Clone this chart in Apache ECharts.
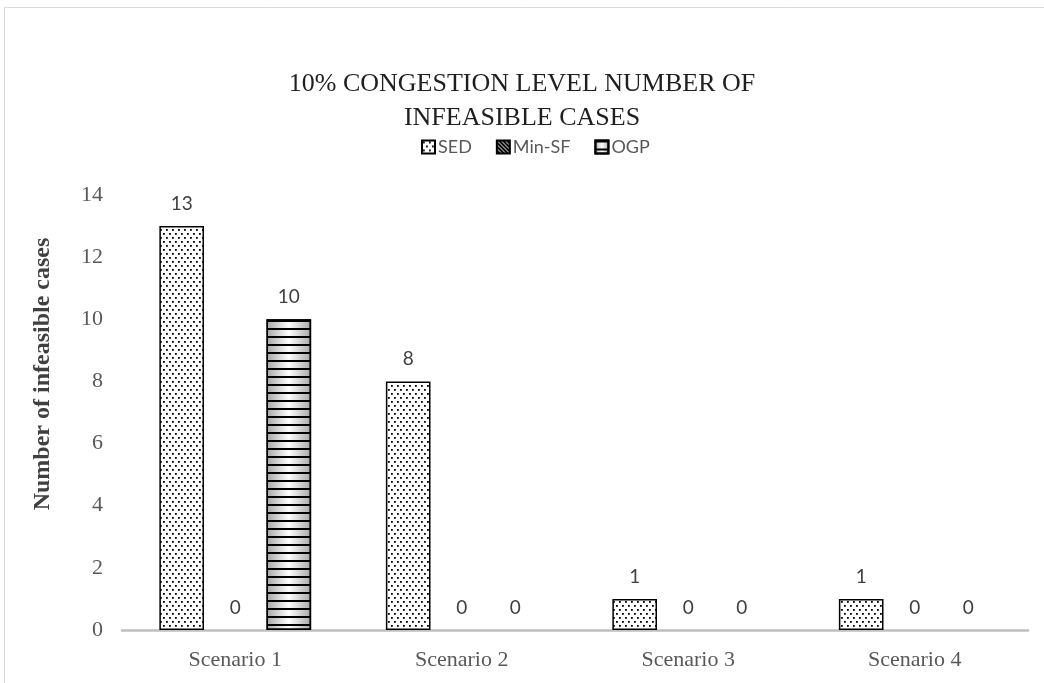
<!DOCTYPE html>
<html>
<head>
<meta charset="utf-8">
<script src="https://cdn.jsdelivr.net/npm/echarts@6/dist/echarts.min.js"></script>
<style>
  html, body { margin: 0; padding: 0; background: #fff; }
  #chart { width: 1044px; height: 683px; }
</style>
</head>
<body>
<div id="chart"></div>
<script>
// Chart data
const categories = ['Scenario 1', 'Scenario 2', 'Scenario 3', 'Scenario 4'];
const sedValues = [13, 8, 1, 1];
const minSfValues = [0, 0, 0, 0];
const ogpValues = [10, 0, 0, 0];
const yTicks = [0, 2, 4, 6, 8, 10, 12, 14];
const yAxisTitle = 'Number of infeasible cases';

// Dotted fill for SED bars
function dotPattern() {
  const c = document.createElement('canvas');
  c.width = 6; c.height = 8;
  const g = c.getContext('2d');
  g.fillStyle = '#fff';
  g.fillRect(0, 0, 6, 8);
  g.fillStyle = '#000';
  g.fillRect(1, 1, 1.8, 1.8);
  g.fillRect(4, 5, 1.8, 1.8);
  return { image: c, repeat: 'repeat' };
}

// Dense diagonal stripes for Min-SF
function diagPattern() {
  const c = document.createElement('canvas');
  c.width = 4; c.height = 4;
  const g = c.getContext('2d');
  g.fillStyle = '#000';
  g.fillRect(0, 0, 4, 4);
  g.strokeStyle = '#fff';
  g.lineWidth = 1;
  g.beginPath();
  g.moveTo(0, 0); g.lineTo(4, 4);
  g.stroke();
  return { image: c, repeat: 'repeat' };
}

// Grey cylinder-style gradient for OGP (stripes added with a decal)
const ogpGradient = {
  type: 'linear', x: 0, y: 0, x2: 1, y2: 0,
  colorStops: [
    { offset: 0, color: '#a6a6a6' },
    { offset: 0.5, color: '#ffffff' },
    { offset: 1, color: '#a6a6a6' }
  ]
};

function withZeroHidden(values) {
  return values.map(v => v === 0 ? { value: v, itemStyle: { borderWidth: 0 } } : v);
}

const labelStyle = {
  show: true,
  position: 'top',
  distance: 13,
  fontFamily: 'Lato',
  fontSize: 19,
  color: '#404040'
};

const chart = echarts.init(document.getElementById('chart'), null, { renderer: 'canvas' });

chart.setOption({
  animation: false,
  backgroundColor: '#ffffff',
  graphic: [
    {
      type: 'rect',
      shape: { x: 4.5, y: 7.5, width: 1200, height: 1000 },
      style: { fill: 'none', stroke: '#d9d9d9', lineWidth: 1 },
      silent: true
    },
    {
      // vertical value-axis title
      type: 'text',
      x: 43,
      y: 374,
      rotation: Math.PI / 2,
      silent: true,
      style: {
        text: yAxisTitle,
        fontFamily: 'Liberation Serif',
        fontWeight: 'bold',
        fontSize: 24,
        fill: '#404040',
        align: 'center',
        verticalAlign: 'middle'
      }
    }
  ],
  title: {
    text: '10% CONGESTION LEVEL NUMBER OF\nINFEASIBLE CASES',
    left: 'center',
    top: 62,
    textStyle: {
      fontFamily: 'Liberation Serif',
      fontWeight: 'normal',
      fontSize: 26,
      lineHeight: 34,
      color: '#1f1f1f'
    }
  },
  legend: {
    left: 416,
    top: 133,
    itemWidth: 13,
    itemHeight: 13,
    itemGap: 24,
    icon: 'rect',
    textStyle: {
      fontFamily: 'Lato',
      fontSize: 18,
      color: '#595959',
      padding: [0, 0, 0, -2]
    },
    data: ['SED', 'Min-SF', 'OGP']
  },
  grid: {
    left: 122,
    right: 16,
    top: 195,
    bottom: 53
  },
  xAxis: {
    type: 'category',
    data: categories,
    axisLine: { lineStyle: { color: '#bfbfbf', width: 2.5 } },
    axisTick: { show: false },
    axisLabel: {
      margin: 19,
      fontFamily: 'Liberation Serif',
      fontSize: 22,
      color: '#595959'
    }
  },
  yAxis: {
    type: 'value',
    min: yTicks[0],
    max: yTicks[yTicks.length - 1],
    interval: 2,
    axisLine: { show: false },
    axisTick: { show: false },
    splitLine: { show: false },
    axisLabel: {
      margin: 19,
      fontFamily: 'Liberation Serif',
      fontSize: 22,
      color: '#595959'
    }
  },
  series: [
    {
      name: 'SED',
      type: 'bar',
      barGap: '20%',
      barCategoryGap: '33%',
      data: withZeroHidden(sedValues),
      itemStyle: { color: dotPattern(), borderColor: '#000', borderWidth: 1.5 },
      label: labelStyle
    },
    {
      name: 'Min-SF',
      type: 'bar',
      data: withZeroHidden(minSfValues),
      itemStyle: { color: diagPattern(), borderColor: '#000', borderWidth: 1.5 },
      label: labelStyle
    },
    {
      name: 'OGP',
      type: 'bar',
      data: withZeroHidden(ogpValues),
      itemStyle: {
        color: ogpGradient,
        borderColor: '#000',
        borderWidth: 1.5,
        decal: {
          symbol: 'rect',
          symbolSize: 1,
          dashArrayX: [1, 0],
          dashArrayY: [2, 6],
          rotation: 0,
          color: '#000'
        }
      },
      label: labelStyle
    }
  ]
});
</script>
</body>
</html>
